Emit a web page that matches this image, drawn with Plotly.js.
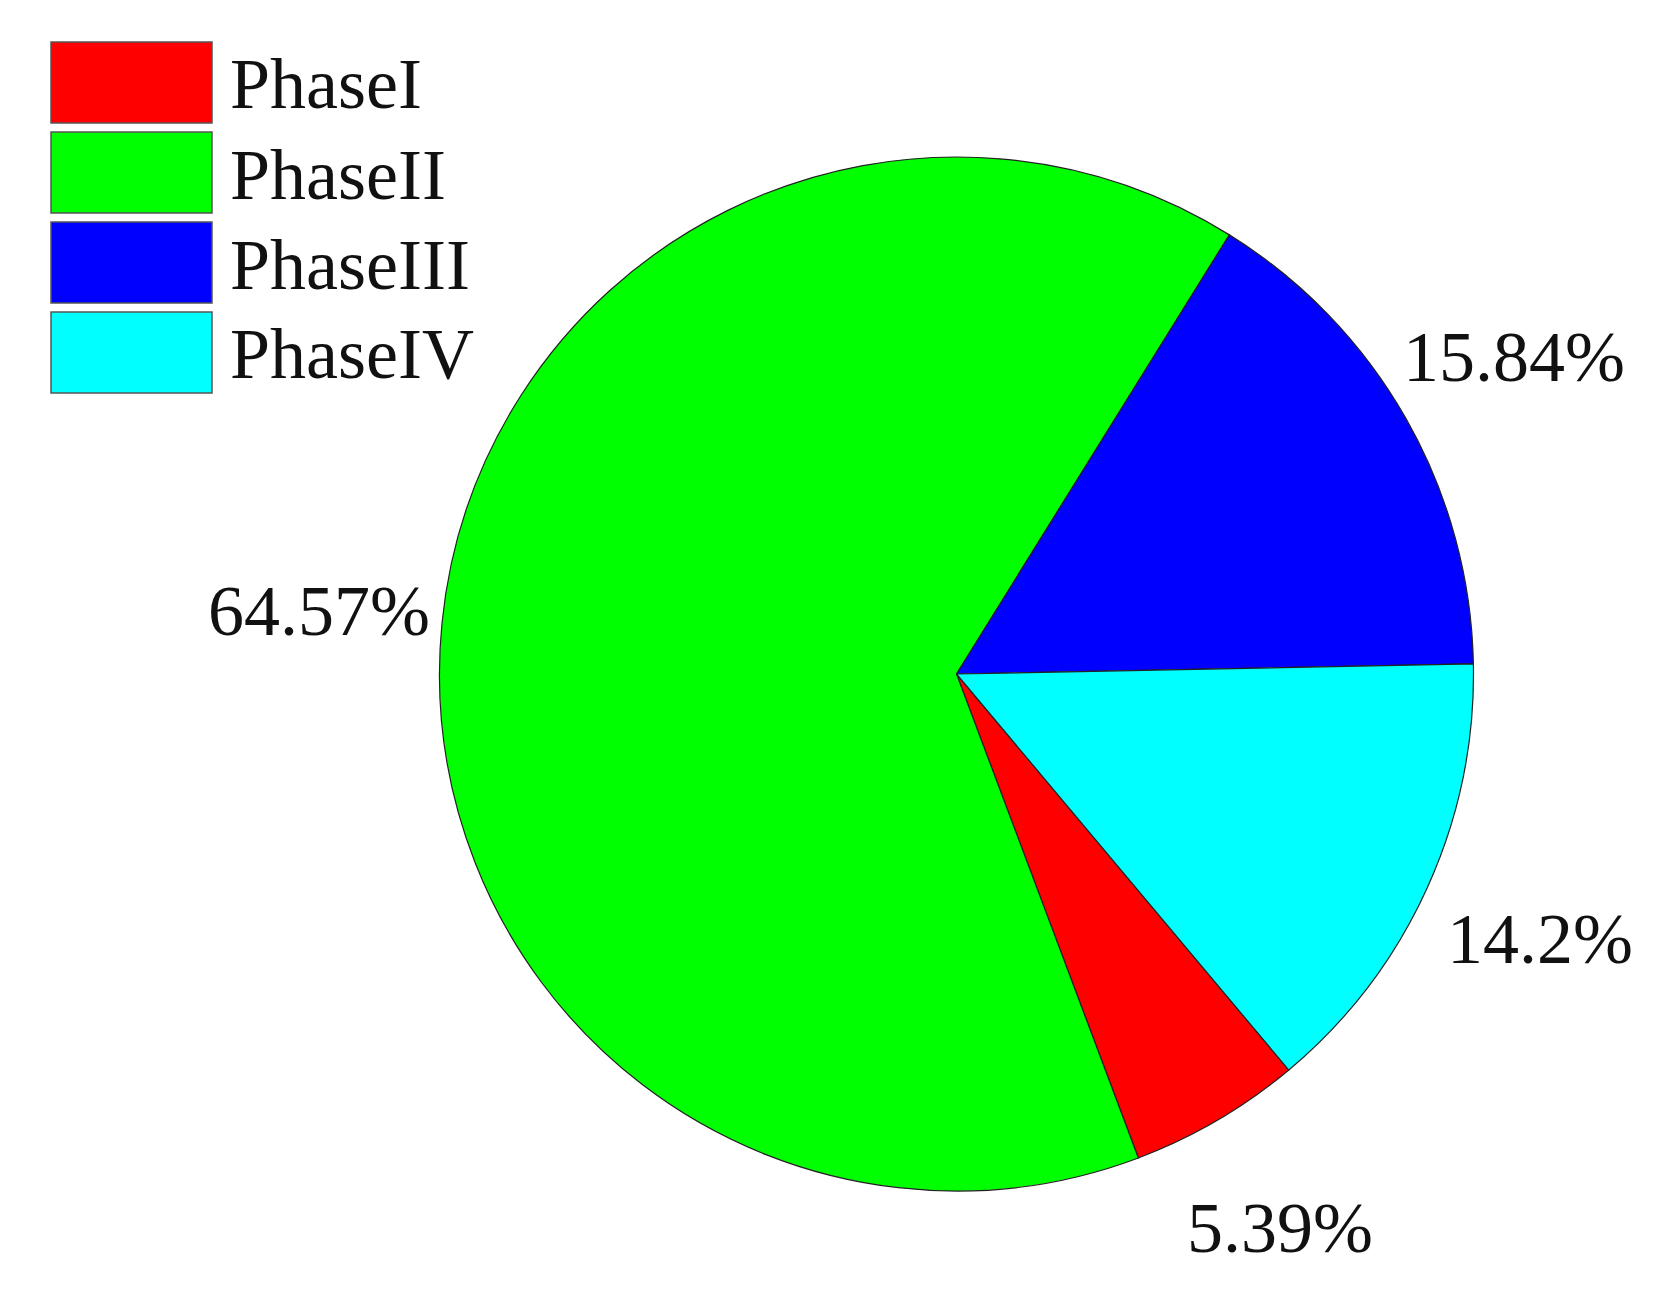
<!DOCTYPE html>
<html>
<head>
<meta charset="utf-8">
<script src="https://cdn.plot.ly/plotly-3.0.1.min.js"></script>
<style>html,body{margin:0;padding:0;background:#fff;}#chart{width:1672px;height:1305px;}</style>
</head>
<body>
<div id="chart"></div>
<script>
const labels = ["PhaseI", "PhaseII", "PhaseIII", "PhaseIV"];
const values = [5.39, 64.57, 15.84, 14.2];
const valueText = ["5.39%", "64.57%", "15.84%", "14.2%"];
const colors = ["#FF0000", "#00FF00", "#0000FF", "#00FFFF"];

const W = 1672, H = 1305;
const FONT = "Liberation Serif, Times New Roman, serif";

// pie geometry (pixels)
const CX = 956.5, CY = 674, R = 517;
const ROTATION = 140;
const LABEL_DIST = 1.24;

const trace = {
  type: "pie",
  labels: labels,
  values: values,
  text: valueText,
  textinfo: "none",
  sort: false,
  direction: "clockwise",
  rotation: ROTATION,
  marker: { colors: colors, line: { color: "#222222", width: 1.2 } },
  domain: { x: [(CX - R) / W, (CX + R) / W], y: [(H - CY - R) / H, (H - CY + R) / H] },
  showlegend: false,
  hoverinfo: "label+text"
};

const shapes = [];
const annotations = [];

// percentage labels placed along each slice's mid-angle, derived from the values
const total = values.reduce((a, b) => a + b, 0);
let cum = 0;
values.forEach((v, i) => {
  const mid = (ROTATION + 360 * (cum + v / 2) / total) * Math.PI / 180;
  cum += v;
  const px = CX + R * LABEL_DIST * Math.sin(mid);
  const py = CY - R * LABEL_DIST * Math.cos(mid);
  annotations.push({
    xref: "paper", yref: "paper", x: px / W, y: 1 - py / H,
    xanchor: "center", yanchor: "middle", showarrow: false,
    text: valueText[i], font: { family: FONT, size: 72, color: "#111111" }
  });
});

// legend with large swatches, built from the label/colour arrays
const swX0 = 51, swX1 = 212, swH = 81, rowStep = 90, swY0 = 42;
labels.forEach((lab, i) => {
  const y0 = swY0 + i * rowStep, y1 = y0 + swH;
  shapes.push({
    type: "rect", xref: "paper", yref: "paper",
    x0: swX0 / W, x1: swX1 / W, y0: 1 - y1 / H, y1: 1 - y0 / H,
    fillcolor: colors[i], line: { color: "#555555", width: 1.5 }
  });
  annotations.push({
    xref: "paper", yref: "paper", x: 228 / W, y: 1 - ((y0 + y1) / 2 + 2) / H,
    xanchor: "left", yanchor: "middle", showarrow: false,
    text: lab, font: { family: FONT, size: 72, color: "#111111" }
  });
});

const layout = {
  width: W, height: H,
  margin: { l: 0, r: 0, t: 0, b: 0 },
  paper_bgcolor: "#ffffff",
  showlegend: false,
  shapes: shapes,
  annotations: annotations
};

Plotly.newPlot("chart", [trace], layout, { displayModeBar: false, staticPlot: true });
</script>
</body>
</html>
